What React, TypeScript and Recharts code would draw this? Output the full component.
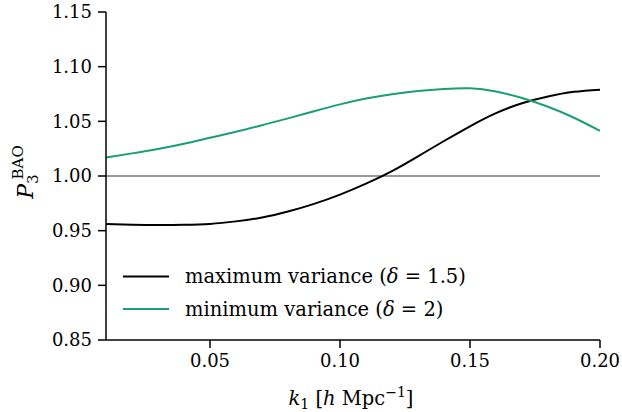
import { LineChart, Line, XAxis, YAxis, ReferenceLine } from 'recharts'

// k1 sampling grid [h/Mpc]
const K_VALUES = [
  0.01, 0.02, 0.03, 0.04, 0.05, 0.06, 0.07, 0.08, 0.09, 0.1,
  0.11, 0.12, 0.13, 0.14, 0.15, 0.16, 0.17, 0.18, 0.19, 0.2,
]
// maximum variance (delta = 1.5)
const MAX_VAR = [
  0.956, 0.9554, 0.9551, 0.9553, 0.9562, 0.9585, 0.962, 0.9675, 0.9745, 0.983,
  0.993, 1.0045, 1.018, 1.032, 1.0455, 1.0575, 1.0666, 1.0728, 1.077, 1.079,
]
// minimum variance (delta = 2)
const MIN_VAR = [
  1.017, 1.0207, 1.0247, 1.0295, 1.035, 1.0405, 1.0465, 1.0527, 1.0592, 1.0655,
  1.0708, 1.0748, 1.0777, 1.0796, 1.0802, 1.0772, 1.0713, 1.0633, 1.0533, 1.0413,
]
const X_TICKS = [0.05, 0.1, 0.15, 0.2]
const Y_TICKS = [0.85, 0.9, 0.95, 1.0, 1.05, 1.1, 1.15]

const data = K_VALUES.map((k, i) => ({ k, maxVar: MAX_VAR[i], minVar: MIN_VAR[i] }))

// drop the default body margin so chart coords == page coords (and no scrollbar)
if (typeof document !== 'undefined') document.body.style.margin = '0'

const FONT = '"DejaVu Serif", serif'
const FS = 18
const LABEL_FS = 19.5
const GREEN = '#1a9e76'

function YLabel() {
  // rotated P_3^BAO, baseline of P sits at x=33
  const cx = 33
  const cy = 172
  return (
    <text
      x={cx}
      y={cy}
      transform={`rotate(-90, ${cx}, ${cy})`}
      textAnchor="middle"
      fontFamily={FONT}
      fontSize={22}
      fill="#000"
    >
      <tspan fontStyle="italic">P</tspan>
      <tspan fontSize={15} dy={5}>3</tspan>
      <tspan fontSize={15} dx={-5} dy={-15}>BAO</tspan>
    </text>
  )
}

export default function App() {
  return (
    <div style={{ position: 'relative', width: 622, height: 412 }}>
      <LineChart
        width={622}
        height={412}
        data={data}
        margin={{ top: 12, right: 22, left: 0, bottom: 0 }}
      >
        <XAxis
          dataKey="k"
          type="number"
          domain={[0.01, 0.2]}
          ticks={X_TICKS}
          allowDataOverflow
          tickFormatter={(v: number) => v.toFixed(2)}
          height={72}
          tickSize={8}
          tickMargin={6}
          stroke="#000"
          strokeWidth={1.5}
          tick={{ fill: '#000', fontFamily: FONT, fontSize: FS }}
        />
        <XAxis xAxisId="top" orientation="top" height={0} tick={false} tickLine={false} stroke="#000" strokeWidth={1.5} />
        <YAxis
          type="number"
          domain={[0.85, 1.15]}
          ticks={Y_TICKS}
          allowDataOverflow
          tickFormatter={(v: number) => v.toFixed(2)}
          width={106}
          tickSize={8}
          tickMargin={6}
          stroke="#000"
          strokeWidth={1.5}
          tick={{ fill: '#000', fontFamily: FONT, fontSize: FS }}
        />
        <YAxis yAxisId="right" orientation="right" width={0} tick={false} tickLine={false} stroke="#000" strokeWidth={1.5} />
        <ReferenceLine y={1} stroke="#333" strokeWidth={1} />
        <Line
          dataKey="maxVar"
          type="natural"
          stroke="#000"
          strokeWidth={2}
          dot={false}
          isAnimationActive={false}
        />
        <Line
          dataKey="minVar"
          type="natural"
          stroke={GREEN}
          strokeWidth={2}
          dot={false}
          isAnimationActive={false}
        />
      </LineChart>
      <svg
        width={622}
        height={412}
        style={{ position: 'absolute', left: 0, top: 0, pointerEvents: 'none' }}
      >
        <YLabel />
        <text x={351} y={405} textAnchor="middle" fontFamily={FONT} fontSize={LABEL_FS} fill="#000">
          <tspan fontStyle="italic">k</tspan>
          <tspan fontSize={14} dy={4}>1</tspan>
          <tspan dy={-4}> [</tspan>
          <tspan fontStyle="italic">h</tspan>
          <tspan> Mpc</tspan>
          <tspan fontSize={14} dy={-8}>−1</tspan>
          <tspan dy={8}>]</tspan>
        </text>
        {/* legend */}
        <line x1={123} x2={169} y1={276.5} y2={276.5} stroke="#000" strokeWidth={2} />
        <text x={185} y={283} fontFamily={FONT} fontSize={LABEL_FS} fill="#000">
          maximum variance (<tspan fontStyle="italic">δ</tspan> = 1.5)
        </text>
        <line x1={123} x2={169} y1={309} y2={309} stroke={GREEN} strokeWidth={2} />
        <text x={185} y={315.5} fontFamily={FONT} fontSize={LABEL_FS} fill="#000">
          minimum variance (<tspan fontStyle="italic">δ</tspan> = 2)
        </text>
      </svg>
    </div>
  )
}
